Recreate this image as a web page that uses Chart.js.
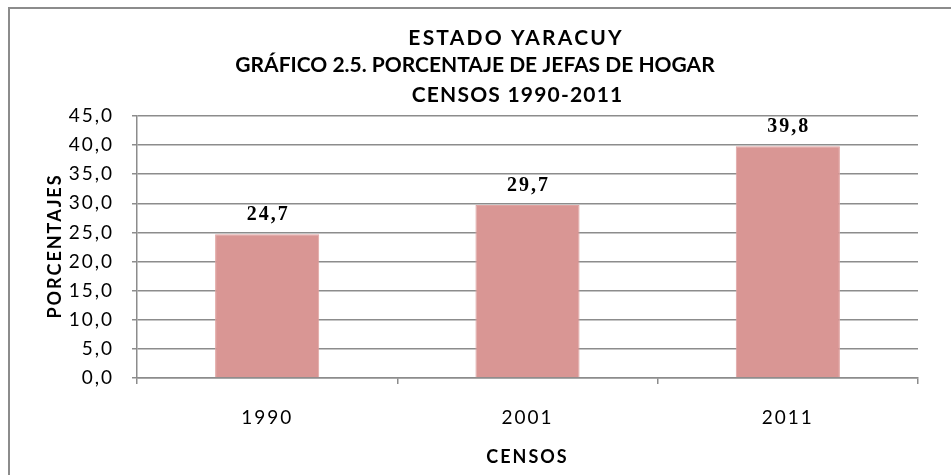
<!DOCTYPE html>
<html>
<head>
<meta charset="utf-8">
<script src="https://cdn.jsdelivr.net/npm/chart.js@4"></script>
<style>
  html, body { margin: 0; padding: 0; background: #fff; overflow: hidden; }
  #wrap { position: relative; width: 951px; height: 475px; }
  #frame { position: absolute; left: 8px; top: 7px; width: 1000px; height: 500px;
           border-left: 2px solid #8c8c8c; border-top: 2px solid #8c8c8c; }
  canvas { position: absolute; left: 0; top: 0; }
</style>
</head>
<body>
<div id="wrap">
  <div id="frame"></div>
  <canvas id="chart" width="951" height="475"></canvas>
</div>
<script>
// Chart data
var censos = ['1990', '2001', '2011'];
var porcentajes = [24.7, 29.7, 39.8];
var titleLines = ['ESTADO YARACUY', 'GRÁFICO 2.5. PORCENTAJE DE JEFAS DE HOGAR', 'CENSOS 1990-2011'];
var yTitle = 'PORCENTAJES';

function fmt(v) {
  return v.toFixed(1).replace('.', ',');
}

// Title: lines 1 and 3 sit a bit right of line 2 in the original
var titleLayout = [
  { x: 515, y: 38, spacing: 2.2 },
  { x: 475, y: 65, spacing: 0 },
  { x: 517, y: 95, spacing: 1.2 }
];

var chartTitle = {
  id: 'chartTitle',
  beforeDraw: function (chart) {
    var ctx = chart.ctx;
    ctx.save();
    ctx.font = 'bold 21px Lato';
    ctx.fillStyle = '#000';
    ctx.textAlign = 'center';
    ctx.textBaseline = 'middle';
    titleLines.forEach(function (line, i) {
      var p = titleLayout[i];
      ctx.letterSpacing = p.spacing + 'px';
      ctx.fillText(line, p.x + p.spacing / 2, p.y);
    });
    ctx.restore();
    // axis text is widely spaced in the original
    ctx.letterSpacing = '2px';
  },
  afterDraw: function (chart) {
    // vertical axis title
    var ctx = chart.ctx;
    var area = chart.chartArea;
    ctx.save();
    ctx.letterSpacing = '2px';
    ctx.font = 'bold 18px Lato';
    ctx.fillStyle = '#000';
    ctx.textAlign = 'center';
    ctx.textBaseline = 'middle';
    ctx.translate(55, (area.top + area.bottom) / 2);
    ctx.rotate(-Math.PI / 2);
    ctx.fillText(yTitle, 1, 0);
    ctx.restore();
  }
};

// Draws the value above each bar
var valueLabels = {
  id: 'valueLabels',
  afterDatasetsDraw: function (chart) {
    var ctx = chart.ctx;
    var meta = chart.getDatasetMeta(0);
    ctx.save();
    ctx.letterSpacing = '2px';
    ctx.font = 'bold 20px "Liberation Serif"';
    ctx.fillStyle = '#000';
    ctx.textAlign = 'center';
    ctx.textBaseline = 'middle';
    meta.data.forEach(function (bar, i) {
      ctx.fillText(fmt(porcentajes[i]), bar.x + 1, bar.y - 19);
    });
    ctx.restore();
  }
};

var ctx = document.getElementById('chart').getContext('2d');
var myChart = new Chart(ctx, {
  type: 'bar',
  data: {
    labels: censos,
    datasets: [{
      data: porcentajes,
      backgroundColor: '#d99694',
      borderColor: '#e0a3a1',
      borderWidth: 1,
      categoryPercentage: 0.8,
      barPercentage: 0.5
    }]
  },
  options: {
    responsive: false,
    animation: false,
    layout: { padding: { left: 20, right: 33, top: 116, bottom: 0 } },
    plugins: {
      legend: { display: false },
      tooltip: { enabled: false },
      title: { display: false }
    },
    scales: {
      x: {
        grid: { drawOnChartArea: false, color: '#8c8c8c', tickLength: 6, lineWidth: 1.5 },
        border: { color: '#8c8c8c', width: 1.5 },
        ticks: { color: '#000', font: { family: 'Lato', size: 19 }, padding: 22 },
        title: {
          display: true, text: 'CENSOS', color: '#000',
          font: { family: 'Lato', weight: 'bold', size: 18 }, padding: { top: 10, bottom: 7 }
        },
        afterFit: function (scale) { scale.height = 97; }
      },
      y: {
        min: 0, max: 45,
        grid: { color: '#8c8c8c', tickLength: 5, lineWidth: 1.5 },
        border: { color: '#8c8c8c', width: 1.5 },
        ticks: {
          stepSize: 5, color: '#000', font: { family: 'Lato', size: 19 }, padding: 18,
          callback: function (v) { return fmt(v); }
        },
        afterFit: function (scale) { scale.width = 117; }
      }
    }
  },
  plugins: [chartTitle, valueLabels]
});
</script>
</body>
</html>
